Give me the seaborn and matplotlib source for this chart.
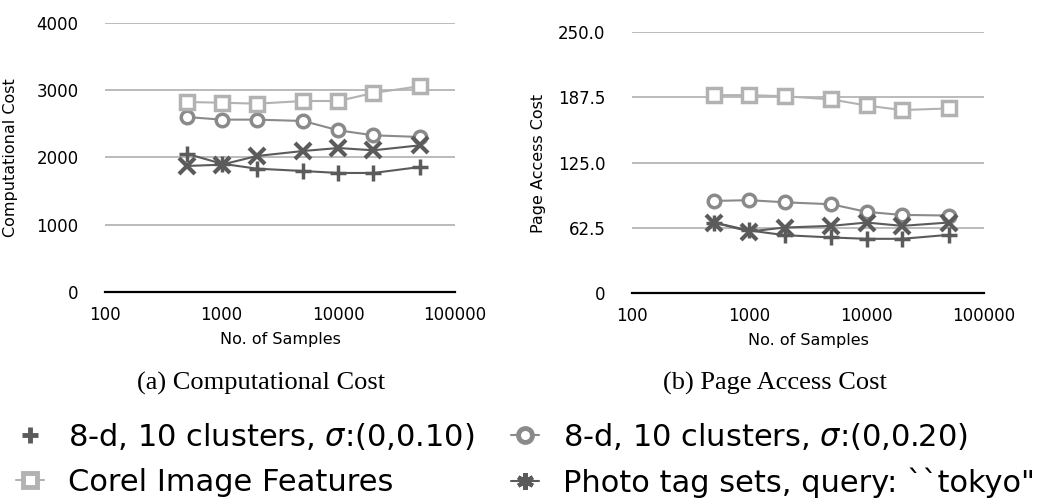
import matplotlib
matplotlib.use("Agg")
import matplotlib.pyplot as plt
import seaborn as sns
from matplotlib.lines import Line2D

# data
samples = [500, 1000, 2000, 5000, 10000, 20000, 50000]

comp_d10 = [2057, 1908, 1834, 1799, 1770, 1770, 1859]
comp_d20 = [2602, 2563, 2563, 2543, 2404, 2330, 2305]
comp_corel = [2825, 2815, 2800, 2840, 2840, 2960, 3060]
comp_tokyo = [1874, 1893, 2022, 2097, 2141, 2107, 2181]

page_d10 = [67.5, 59.9, 55.4, 53.2, 51.9, 51.9, 55.7]
page_d20 = [88.2, 88.9, 86.9, 85.0, 77.7, 74.8, 74.2]
page_corel = [189.5, 189.5, 188.5, 185.4, 179.6, 175.2, 176.8]
page_tokyo = [67.5, 58.9, 62.7, 64.3, 67.5, 64.3, 67.5]

labels = ["8-d, 10 clusters, $\\sigma$:(0,0.10)",
          "8-d, 10 clusters, $\\sigma$:(0,0.20)",
          "Corel Image Features",
          "Photo tag sets, query: ``tokyo\""]

comp_ticks = [0, 1000, 2000, 3000, 4000]
comp_ticklabels = ["0", "1000", "2000", "3000", "4000"]
page_ticks = [0, 62.5, 125, 187.5, 250]
page_ticklabels = ["0", "62.5", "125.0", "187.5", "250.0"]
x_ticks = [100, 1000, 10000, 100000]
x_ticklabels = ["100", "1000", "10000", "100000"]

sns.set_style("white")
plt.rcParams["font.family"] = ["DejaVu Sans"]
plt.rcParams.update({"text.color": "black", "axes.labelcolor": "black",
                     "xtick.color": "black", "ytick.color": "black"})

dark = "#5b5b5b"
mid = "#8a8a8a"
light = "#b2b2b2"
styles = [
    dict(marker="+", color=dark, markersize=11, mew=2.5),
    dict(marker="o", color=mid, markersize=9, mew=2.5, mfc="white"),
    dict(marker="s", color=light, markersize=10, mew=2.5, mfc="white"),
    dict(marker="x", color=dark, markersize=11, mew=3),
]

fig = plt.figure(figsize=(10.38, 4.98), dpi=100)
ax1 = fig.add_axes([105 / 1038, 1 - 292 / 498, 350 / 1038, 269 / 498])
ax2 = fig.add_axes([632 / 1038, 1 - 293 / 498, 352 / 1038, 261 / 498])


def draw(ax, series, ticks, ticklabels, ylabel, ylim, label_x, label_y):
    for vals, st in zip(series, styles):
        sns.lineplot(x=samples, y=vals, ax=ax, color=st["color"], linewidth=1.5,
                     marker=st["marker"], markersize=st["markersize"],
                     markeredgewidth=st["mew"], markeredgecolor=st["color"],
                     markerfacecolor=st.get("mfc", st["color"]), legend=False)
    ax.set_xscale("log")
    ax.set_xlim(100, 100000)
    ax.set_ylim(*ylim)
    ax.set_xticks(x_ticks)
    ax.set_xticklabels(x_ticklabels)
    ax.minorticks_off()
    ax.set_yticks(ticks)
    ax.set_yticklabels(ticklabels)
    ax.tick_params(axis="y", length=0, pad=19, labelsize=12)
    ax.tick_params(axis="x", length=0, pad=10, labelsize=12)
    ax.grid(axis="y", color="#bbbbbb", linewidth=1.4)
    ax.set_axisbelow(True)
    for s in ["top", "right", "left"]:
        ax.spines[s].set_visible(False)
    ax.spines["bottom"].set_color("black")
    ax.spines["bottom"].set_linewidth(1.6)
    ax.set_xlabel("No. of Samples", fontsize=11.5, labelpad=6)
    ax.set_ylabel(ylabel, fontsize=11.5)
    ax.yaxis.set_label_coords(label_x, label_y)


draw(ax1, [comp_d10, comp_d20, comp_corel, comp_tokyo], comp_ticks, comp_ticklabels,
     "Computational Cost", (0, 4000), -0.249, 0.5)
draw(ax2, [page_d10, page_d20, page_corel, page_tokyo], page_ticks, page_ticklabels,
     "Page Access Cost", (0, 250), -0.244, 0.498)

fig.text(261 / 1038, 1 - 383 / 498, "(a) Computational Cost", ha="center", va="center",
         family="Liberation Serif", fontsize=19)
fig.text(775 / 1038, 1 - 383 / 498, "(b) Page Access Cost", ha="center", va="center",
         family="Liberation Serif", fontsize=19)

h_d10 = Line2D([], [], linestyle="none", marker="+", color=dark, markersize=12, mew=3.5)
h_d20 = Line2D([], [], linestyle="-", linewidth=1.5, marker="o", color=mid,
               markersize=10, mew=3.5, mfc="white")
h_corel = Line2D([], [], linestyle="-", linewidth=1.5, marker="s", color=light,
                 markersize=10, mew=3.5, mfc="white")
h_tokyo = Line2D([], [], linestyle="-", linewidth=1.5, marker=(6, 2, 0), color=dark,
                 markersize=12, mew=3)
# column-major fill: row 1 = d10, d20 ; row 2 = corel, tokyo
fig.legend([h_d10, h_corel, h_d20, h_tokyo],
           [labels[0], labels[2], labels[1], labels[3]],
           loc="lower left", bbox_to_anchor=(16 / 1038, 0.0), ncol=2,
           frameon=False, fontsize=22, handlelength=0.9, handletextpad=0.8,
           columnspacing=1.2, labelspacing=0.52, borderpad=0, borderaxespad=0)

fig.savefig("out.png", dpi=100)
